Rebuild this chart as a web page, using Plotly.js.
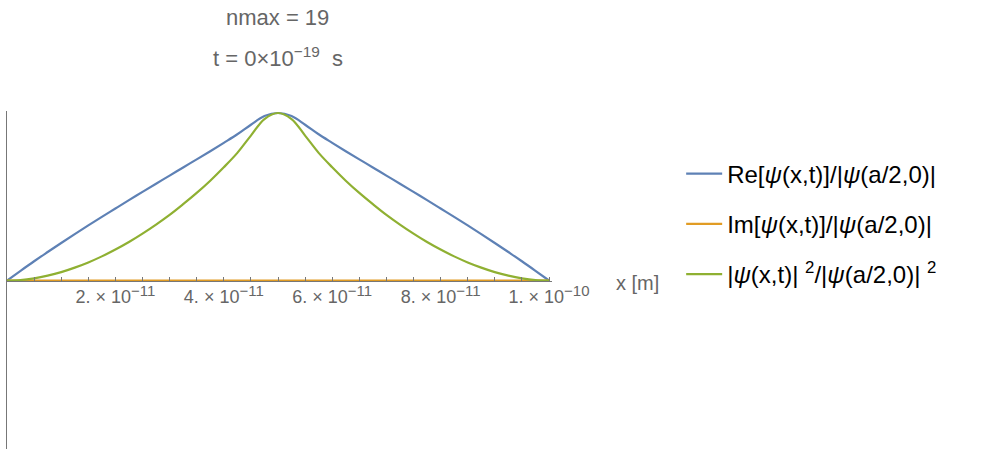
<!DOCTYPE html>
<html>
<head>
<meta charset="utf-8">
<script src="https://cdn.plot.ly/plotly-3.0.1.min.js"></script>
<style>html,body{margin:0;padding:0;background:#fff;} #chart{width:984px;height:452px;}</style>
</head>
<body>
<div id="chart"></div>
<script>
// x positions (m)
const xs = [0, 2.5e-12, 5e-12, 7.5e-12, 1e-11, 1.25e-11, 1.5e-11, 1.75e-11, 2e-11, 2.25e-11,
  2.5e-11, 2.75e-11, 3e-11, 3.25e-11, 3.5e-11, 3.75e-11, 4e-11, 4.25e-11, 4.5e-11, 4.75e-11,
  5e-11, 5.25e-11, 5.5e-11, 5.75e-11, 6e-11, 6.25e-11, 6.5e-11, 6.75e-11, 7e-11, 7.25e-11,
  7.5e-11, 7.75e-11, 8e-11, 8.25e-11, 8.5e-11, 8.75e-11, 9e-11, 9.25e-11, 9.5e-11, 9.75e-11, 1e-10];
// Re[psi]/|psi(a/2,0)|
const reVals = [0, 0.058, 0.115, 0.170, 0.224, 0.277, 0.329, 0.380, 0.430, 0.480,
  0.529, 0.578, 0.626, 0.675, 0.723, 0.772, 0.822, 0.873, 0.930, 0.982,
  1.0, 0.982, 0.930, 0.873, 0.822, 0.772, 0.723, 0.675, 0.626, 0.578,
  0.529, 0.480, 0.430, 0.380, 0.329, 0.277, 0.224, 0.170, 0.115, 0.058, 0];
// Im[psi]/|psi(a/2,0)|
const imVals = [0, 0, 0, 0, 0, 0, 0, 0, 0, 0, 0, 0, 0, 0, 0, 0, 0, 0, 0, 0, 0,
  0, 0, 0, 0, 0, 0, 0, 0, 0, 0, 0, 0, 0, 0, 0, 0, 0, 0, 0, 0];
// |psi|^2/|psi(a/2,0)|^2
const absVals = [0, 0.003, 0.013, 0.029, 0.050, 0.077, 0.108, 0.144, 0.185, 0.230,
  0.280, 0.334, 0.392, 0.456, 0.523, 0.596, 0.676, 0.762, 0.865, 0.964,
  1.0, 0.964, 0.865, 0.762, 0.676, 0.596, 0.523, 0.456, 0.392, 0.334,
  0.280, 0.230, 0.185, 0.144, 0.108, 0.077, 0.050, 0.029, 0.013, 0.003, 0];

const SUP = (s) => '<sup><span style="font-size:15px">' + s + '</span></sup>';
const tickVals = [5e-12, 1e-11, 1.5e-11, 2e-11, 2.5e-11, 3e-11, 3.5e-11, 4e-11, 4.5e-11, 5e-11,
  5.5e-11, 6e-11, 6.5e-11, 7e-11, 7.5e-11, 8e-11, 8.5e-11, 9e-11, 9.5e-11, 1e-10];
const tickText = ['', '', '', '2. \u00d7 10' + SUP('\u221211'), '', '', '', '4. \u00d7 10' + SUP('\u221211'), '', '',
  '', '6. \u00d7 10' + SUP('\u221211'), '', '', '', '8. \u00d7 10' + SUP('\u221211'), '', '', '', '1. \u00d7 10' + SUP('\u221210')];

const names = ['Re[<i>\u03c8</i>(x,t)]/|<i>\u03c8</i>(a/2,0)|',
  'Im[<i>\u03c8</i>(x,t)]/|<i>\u03c8</i>(a/2,0)|',
  '|<i>\u03c8</i>(x,t)| <sup>2</sup>/|<i>\u03c8</i>(a/2,0)| <sup>2</sup>'];
const colors = ['#5E81B5', '#E19C24', '#8FB032'];
const series = [reVals, imVals, absVals];

const FONT = 'Liberation Sans, Arial, Helvetica, sans-serif';
const traces = series.map((ys, i) => ({
  x: xs, y: ys, type: 'scatter', mode: 'lines', name: names[i],
  legendgroup: 'g' + i,
  line: {color: colors[i], width: 2.2, shape: 'spline', smoothing: 1},
  hoverinfo: 'skip'
}));

const layout = {
  width: 984, height: 452,
  margin: {l: 7, r: 432, t: 111, b: 3, pad: 0},
  paper_bgcolor: '#fff', plot_bgcolor: '#fff',
  font: {family: FONT, color: '#666'},
  showlegend: true,
  legend: {x: 1.237, xanchor: 'left', y: 0.88, yanchor: 'top', traceorder: 'grouped',
    tracegroupgap: 16, itemwidth: 36, font: {family: FONT, size: 24, color: '#000'}, bgcolor: 'rgba(0,0,0,0)'},
  xaxis: {
    range: [0, 1.00554e-10], anchor: 'free', position: 0.4985,
    showline: true, linecolor: '#777', linewidth: 1,
    showgrid: false, zeroline: false,
    tickmode: 'array', tickvals: tickVals, ticktext: tickText,
    ticks: 'inside', ticklen: 4, tickcolor: '#777', tickwidth: 1,
    tickfont: {family: FONT, size: 18, color: '#666'}
  },
  yaxis: {
    range: [-1.006, 1.012], showline: true, linecolor: '#777', linewidth: 1,
    showgrid: false, zeroline: false, showticklabels: false, ticks: ''
  },
  annotations: [
    {text: 'nmax = 19', xref: 'paper', yref: 'paper', x: 0.497, y: 1.278, xanchor: 'center', yanchor: 'middle',
      showarrow: false, font: {family: FONT, size: 22, color: '#666'}},
    {text: 't = 0\u00d710<sup>\u221219</sup>  s', xref: 'paper', yref: 'paper', x: 0.497, y: 1.16, xanchor: 'center', yanchor: 'middle',
      showarrow: false, font: {family: FONT, size: 22, color: '#666'}},
    {text: 'x [m]', xref: 'paper', yref: 'paper', x: 1.1138, y: 0.491, xanchor: 'left', yanchor: 'middle',
      showarrow: false, font: {family: FONT, size: 20, color: '#666'}}
  ]
};

Plotly.newPlot('chart', traces, layout, {staticPlot: true, displayModeBar: false});
</script>
</body>
</html>
